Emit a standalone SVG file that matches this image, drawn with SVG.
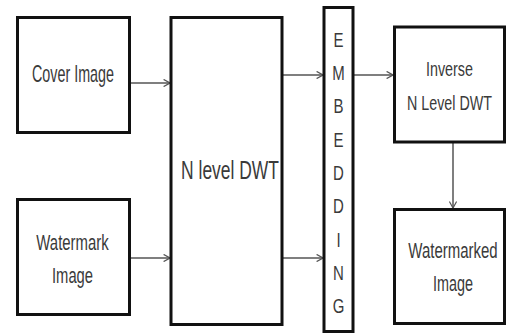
<svg xmlns="http://www.w3.org/2000/svg" width="507" height="333" viewBox="0 0 507 333">
<defs>
<style>
.box{fill:#fff;stroke:#111;stroke-width:3}
.t{font-family:"Liberation Sans",Arial,sans-serif;fill:#3a3a3a;text-anchor:middle}
.c{stroke:#555;stroke-width:1.5;fill:none}
</style>
<marker id="ah" viewBox="0 0 10 10" refX="9" refY="5" markerWidth="8" markerHeight="8" markerUnits="userSpaceOnUse" orient="auto">
<path d="M1,0.5 L9,5 L1,9.5" fill="none" stroke="#555" stroke-width="1.5"/>
</marker>
</defs>
<rect width="507" height="333" fill="#fff"/>
<g id="connectors">
<line class="c" x1="131" y1="83" x2="170" y2="83" marker-end="url(#ah)"/>
<line class="c" x1="131" y1="258" x2="170" y2="258" marker-end="url(#ah)"/>
<line class="c" x1="283" y1="75" x2="323" y2="75" marker-end="url(#ah)"/>
<line class="c" x1="283" y1="258" x2="323" y2="258" marker-end="url(#ah)"/>
<line class="c" x1="354" y1="75" x2="393" y2="75" marker-end="url(#ah)"/>
<line class="c" x1="453" y1="143" x2="453" y2="208" marker-end="url(#ah)"/>
</g>
<g id="cover">
<rect class="box" x="17.5" y="17.5" width="112" height="115"/>
<text class="t" transform="translate(73,82) scale(0.623,1)" font-size="23">Cover Image</text>
</g>
<g id="watermark">
<rect class="box" x="17.5" y="199.5" width="112" height="115"/>
<text class="t" transform="translate(72.5,250) scale(0.678,1)" font-size="22">Watermark</text>
<text class="t" transform="translate(72.5,283) scale(0.671,1)" font-size="22">Image</text>
</g>
<g id="dwt">
<rect class="box" x="171" y="17.5" width="111" height="307" stroke-width="2.5"/>
<text class="t" transform="translate(230,179) scale(0.698,1)" font-size="25">N level DWT</text>
</g>
<g id="embedding">
<rect class="box" x="324" y="7.5" width="29" height="324"/>
<g class="t" font-size="20">
<text transform="translate(338.5,47) scale(0.75,1)">E</text>
<text transform="translate(338.5,80) scale(0.75,1)">M</text>
<text transform="translate(338.5,113) scale(0.75,1)">B</text>
<text transform="translate(338.5,147) scale(0.75,1)">E</text>
<text transform="translate(338.5,180) scale(0.75,1)">D</text>
<text transform="translate(338.5,213) scale(0.75,1)">D</text>
<text transform="translate(338.5,247) scale(0.75,1)">I</text>
<text transform="translate(338.5,280) scale(0.75,1)">N</text>
<text transform="translate(338.5,313) scale(0.75,1)">G</text>
</g>
</g>
<g id="inverse">
<rect class="box" x="394.5" y="27" width="110" height="115"/>
<text class="t" transform="translate(449.5,76) scale(0.717,1)" font-size="20">Inverse</text>
<text class="t" transform="translate(449.5,110) scale(0.681,1)" font-size="21">N Level DWT</text>
</g>
<g id="watermarked">
<rect class="box" x="394.5" y="209.5" width="110" height="114"/>
<text class="t" transform="translate(453,258) scale(0.682,1)" font-size="22">Watermarked</text>
<text class="t" transform="translate(453,291) scale(0.655,1)" font-size="22">Image</text>
</g>
</svg>
